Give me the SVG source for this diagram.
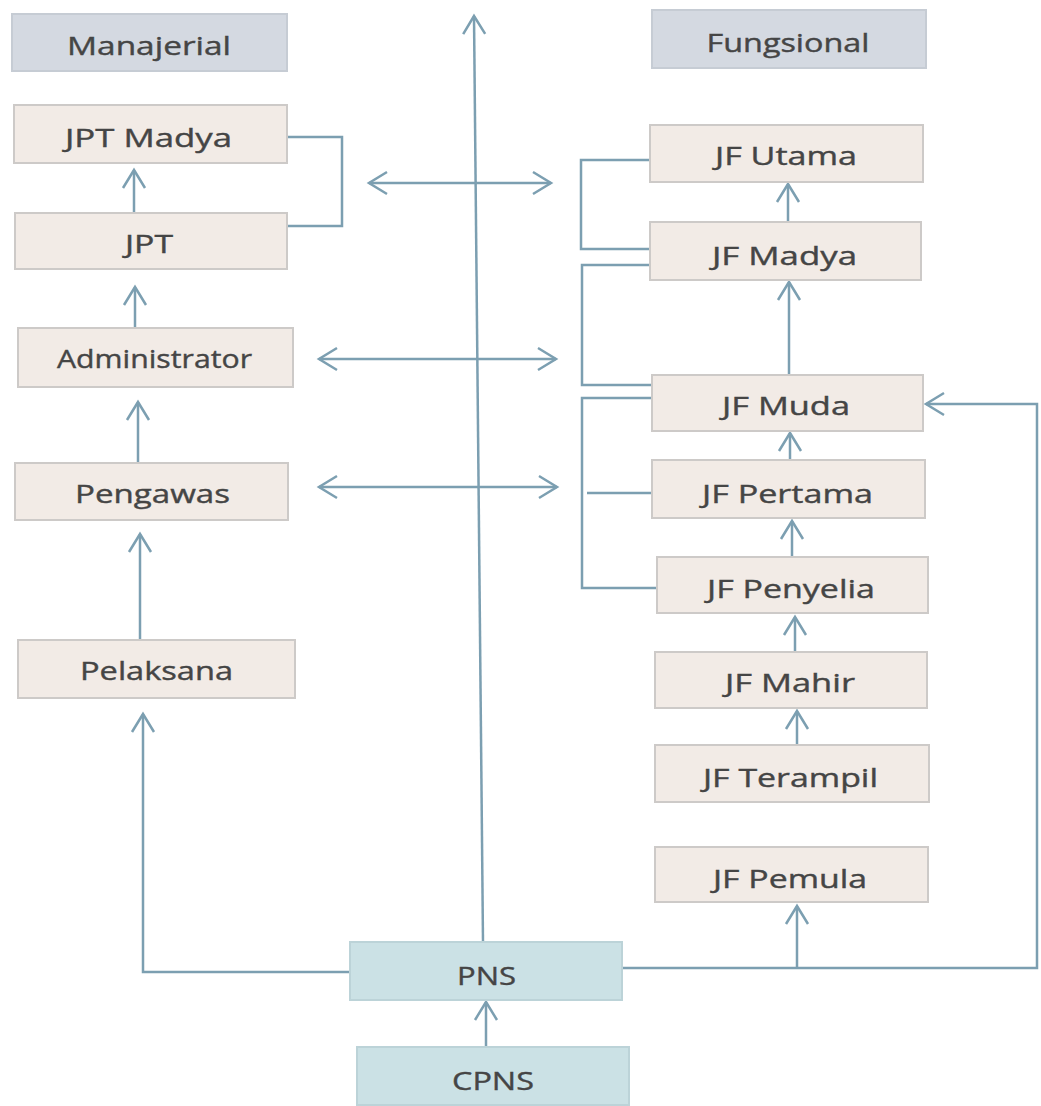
<svg xmlns="http://www.w3.org/2000/svg" width="1041" height="1106" viewBox="0 0 1041 1106">
<style>
.box{fill:#f2ebe6;stroke:#cdcac8;stroke-width:2}
.hdr{fill:#d4d9e1;stroke:#c6ccd4;stroke-width:2}
.pns{fill:#cbe1e5;stroke:#bcd3d8;stroke-width:2}
.lbl{font-family:"Open Sans","Liberation Sans",sans-serif;font-size:26px;fill:#454545;text-anchor:middle;stroke:#454545;stroke-width:0.4}
.ln{fill:none;stroke:#7c9fb1;stroke-width:2.5}
.ar{marker-end:url(#ah)}
.dar{marker-end:url(#ah);marker-start:url(#ah)}
</style>
<defs>
<marker id="ah" viewBox="-22 -14 26 28" markerUnits="userSpaceOnUse" markerWidth="26" markerHeight="28" refX="0" refY="0" orient="auto-start-reverse">
<path d="M-18,-11 L0,0 L-18,11" fill="none" stroke="#7c9fb1" stroke-width="2.5"/>
</marker>
</defs>
<rect width="1041" height="1106" fill="#ffffff"/>
<g id="connectors">
<path class="ln ar" d="M483,942 L474,16"/>
<path class="ln dar" d="M369,183 L551,183"/>
<path class="ln dar" d="M319,359 L556,359"/>
<path class="ln dar" d="M319,487 L557,487"/>
<path class="ln ar" d="M134,213 L134,170"/>
<path class="ln ar" d="M135,328 L135,287"/>
<path class="ln ar" d="M138,463 L138,402"/>
<path class="ln ar" d="M140,640 L140,534"/>
<path class="ln ar" d="M350,972 L143,972 L143,714"/>
<path class="ln ar" d="M486,1047 L486,1002"/>
<path class="ln ar" d="M622,968 L1037,968 L1037,404 L926,404"/>
<path class="ln ar" d="M797,968 L797,906"/>
<path class="ln ar" d="M797,745 L797,711"/>
<path class="ln ar" d="M795,652 L795,617"/>
<path class="ln ar" d="M792,557 L792,521"/>
<path class="ln ar" d="M790,460 L790,433"/>
<path class="ln ar" d="M789,375 L789,282"/>
<path class="ln ar" d="M788,222 L788,184"/>
<path class="ln" d="M287,137 L342,137 L342,226 L287,226"/>
<path class="ln" d="M651,160 L581,160 L581,249 L650,249"/>
<path class="ln" d="M650,265 L582,265 L582,385 L652,385"/>
<path class="ln" d="M652,398 L582,398 L582,588 L657,588"/>
<path class="ln" d="M587,493 L653,493"/>
</g>
<g id="manajerial"><rect class="hdr" x="12" y="14" width="275" height="57"/><text class="lbl" x="149" y="55" textLength="164" lengthAdjust="spacingAndGlyphs">Manajerial</text></g>
<g id="fungsional"><rect class="hdr" x="652" y="10" width="274" height="58"/><text class="lbl" x="788" y="52" textLength="163" lengthAdjust="spacingAndGlyphs">Fungsional</text></g>
<g id="jpt-madya"><rect class="box" x="14" y="105" width="273" height="58"/><text class="lbl" x="148.5" y="147" textLength="167" lengthAdjust="spacingAndGlyphs">JPT Madya</text></g>
<g id="jpt"><rect class="box" x="15" y="213" width="272" height="56"/><text class="lbl" x="149" y="253" textLength="48" lengthAdjust="spacingAndGlyphs">JPT</text></g>
<g id="administrator"><rect class="box" x="18" y="328" width="275" height="59"/><text class="lbl" x="154.5" y="368" textLength="195" lengthAdjust="spacingAndGlyphs">Administrator</text></g>
<g id="pengawas"><rect class="box" x="15" y="463" width="273" height="57"/><text class="lbl" x="152.5" y="503" textLength="155" lengthAdjust="spacingAndGlyphs">Pengawas</text></g>
<g id="pelaksana"><rect class="box" x="18" y="640" width="277" height="58"/><text class="lbl" x="156.5" y="680" textLength="153" lengthAdjust="spacingAndGlyphs">Pelaksana</text></g>
<g id="jf-utama"><rect class="box" x="650" y="125" width="273" height="57"/><text class="lbl" x="786" y="165" textLength="142" lengthAdjust="spacingAndGlyphs">JF Utama</text></g>
<g id="jf-madya"><rect class="box" x="650" y="222" width="271" height="58"/><text class="lbl" x="784.5" y="265" textLength="145" lengthAdjust="spacingAndGlyphs">JF Madya</text></g>
<g id="jf-muda"><rect class="box" x="652" y="375" width="271" height="56"/><text class="lbl" x="786" y="415" textLength="128" lengthAdjust="spacingAndGlyphs">JF Muda</text></g>
<g id="jf-pertama"><rect class="box" x="652" y="460" width="273" height="58"/><text class="lbl" x="787.5" y="503" textLength="171" lengthAdjust="spacingAndGlyphs">JF Pertama</text></g>
<g id="jf-penyelia"><rect class="box" x="657" y="557" width="271" height="56"/><text class="lbl" x="791" y="598" textLength="168" lengthAdjust="spacingAndGlyphs">JF Penyelia</text></g>
<g id="jf-mahir"><rect class="box" x="655" y="652" width="272" height="56"/><text class="lbl" x="790" y="692" textLength="130" lengthAdjust="spacingAndGlyphs">JF Mahir</text></g>
<g id="jf-terampil"><rect class="box" x="655" y="745" width="274" height="57"/><text class="lbl" x="790.5" y="787" textLength="175" lengthAdjust="spacingAndGlyphs">JF Terampil</text></g>
<g id="jf-pemula"><rect class="box" x="655" y="847" width="273" height="55"/><text class="lbl" x="790" y="888" textLength="154" lengthAdjust="spacingAndGlyphs">JF Pemula</text></g>
<g id="pns"><rect class="pns" x="350" y="942" width="272" height="58"/><text class="lbl" x="486.5" y="985" textLength="59" lengthAdjust="spacingAndGlyphs">PNS</text></g>
<g id="cpns"><rect class="pns" x="357" y="1047" width="272" height="58"/><text class="lbl" x="493" y="1090" textLength="82" lengthAdjust="spacingAndGlyphs">CPNS</text></g>
</svg>
